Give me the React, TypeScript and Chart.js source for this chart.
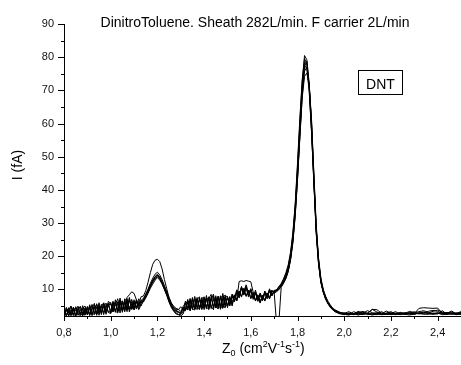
import React, { useEffect, useRef } from 'react';
import { Chart, registerables } from 'chart.js';

Chart.register(...registerables);

// Reduced mobility Z0 (cm2 V-1 s-1) sample positions
const zValues = [
  0.80, 0.81, 0.82, 0.83, 0.84, 0.85, 0.86, 0.87, 0.88, 0.89,
  0.90, 0.91, 0.92, 0.93, 0.94, 0.95, 0.96, 0.97, 0.98, 0.99,
  1.00, 1.01, 1.02, 1.03, 1.04, 1.05, 1.06, 1.07, 1.08, 1.09,
  1.10, 1.11, 1.12, 1.13, 1.14, 1.15, 1.16, 1.17, 1.18, 1.19,
  1.20, 1.21, 1.22, 1.23, 1.24, 1.25, 1.26, 1.27, 1.28, 1.29,
  1.30, 1.31, 1.32, 1.33, 1.34, 1.35, 1.36, 1.37, 1.38, 1.39,
  1.40, 1.41, 1.42, 1.43, 1.44, 1.45, 1.46, 1.47, 1.48, 1.49,
  1.50, 1.51, 1.52, 1.53, 1.54, 1.55, 1.56, 1.57, 1.58, 1.59,
  1.60, 1.61, 1.62, 1.63, 1.64, 1.65, 1.66, 1.67, 1.68, 1.69,
  1.70, 1.71, 1.72, 1.73, 1.74, 1.75, 1.76, 1.77, 1.78, 1.79,
  1.80, 1.81, 1.82, 1.83, 1.84, 1.85, 1.86, 1.87, 1.88, 1.89,
  1.90, 1.91, 1.92, 1.93, 1.94, 1.95, 1.96, 1.98, 2.00, 2.02,
  2.04, 2.06, 2.08, 2.10, 2.12, 2.14, 2.16, 2.18, 2.20, 2.22,
  2.24, 2.26, 2.28, 2.30, 2.32, 2.34, 2.36, 2.38, 2.40, 2.42,
  2.44, 2.46, 2.48, 2.50, 2.52,
];

// Current I (fA), one array per repeated scan
const scan1 = [
  2.1, 4.6, 2.8, 4.9, 2.3, 3.9, 5.0, 2.6, 2.2, 4.5,
  2.7, 5.4, 3.0, 2.4, 5.7, 3.3, 4.9, 6.0, 2.9, 5.2,
  6.1, 3.4, 5.5, 7.2, 3.8, 6.6, 4.2, 7.6, 8.4, 9.3,
  8.8, 6.9, 5.3, 7.8, 8.0, 9.6, 12.2, 15.1, 17.6, 18.8,
  19.1, 18.4, 16.2, 13.0, 10.2, 7.4, 5.6, 4.4, 3.7, 3.3,
  3.0, 4.8, 6.0, 3.9, 7.3, 4.4, 7.9, 4.6, 3.9, 7.6,
  4.6, 8.2, 4.4, 7.1, 8.6, 4.5, 7.9, 5.0, 8.8, 5.2,
  7.9, 5.1, 8.6, 7.4, 9.9, 8.8, 10.6, 9.3, 11.4, 9.0,
  10.2, 7.6, 9.8, 7.0, 8.9, 7.1, 9.5, 7.6, 10.2, 8.4,
  9.8, 9.5, 10.9, 11.4, 13.0, 14.6, 16.8, 20.6, 26.4, 35.2,
  47.0, 60.5, 72.5, 80.5, 79.2, 72.0, 59.5, 43.0, 28.5, 19.2,
  13.2, 10.0, 8.0, 6.5, 5.4, 4.4, 3.9, 3.1, 2.8, 3.3,
  2.6, 3.4, 2.9, 3.6, 3.0, 2.7, 3.3, 2.6, 2.9, 2.5,
  3.1, 2.8, 3.4, 3.0, 3.3, 3.6, 3.1, 2.7, 3.0, 2.6,
  2.9, 3.2, 2.7, 2.9, 2.8,
];
const scan2 = [
  3.9, 2.0, 3.6, 2.3, 4.7, 2.1, 3.7, 4.8, 2.9, 2.2,
  4.9, 2.5, 4.3, 5.8, 2.6, 5.2, 2.9, 4.8, 5.9, 3.0,
  3.6, 6.4, 3.1, 5.9, 6.9, 3.4, 6.2, 3.8, 6.8, 4.0,
  6.4, 4.1, 5.8, 6.4, 7.0, 8.4, 9.7, 11.2, 12.6, 13.9,
  14.6, 13.8, 12.5, 10.6, 8.7, 6.6, 4.9, 3.6, 2.9, 2.5,
  2.4, 3.2, 5.6, 6.6, 3.7, 7.2, 4.1, 6.9, 7.8, 4.0,
  7.3, 4.1, 7.8, 5.0, 3.9, 8.1, 5.1, 4.4, 7.6, 8.3,
  5.0, 7.9, 5.5, 8.4, 7.0, 12.4, 12.6, 12.4, 12.7, 12.5,
  12.3, 9.2, 6.7, 8.1, 5.9, 8.2, 6.6, 9.0, 7.4, 9.6,
  9.0, 9.6, 10.0, 11.0, 12.1, 13.5, 15.6, 19.0, 24.4, 32.6,
  43.5, 56.8, 69.5, 77.2, 78.8, 71.4, 58.2, 41.8, 26.8, 17.6,
  12.2, 9.3, 7.4, 5.9, 4.8, 4.1, 3.4, 2.7, 2.4, 2.9,
  2.5, 2.8, 3.2, 2.4, 2.7, 3.0, 2.5, 2.8, 2.4, 2.6,
  2.9, 2.5, 3.0, 2.7, 4.3, 4.5, 4.4, 4.3, 4.4, 2.8,
  2.6, 2.9, 2.5, 2.7, 2.6,
];
const scan3 = [
  2.0, 3.6, 4.2, 2.1, 3.5, 4.6, 2.2, 4.0, 2.4, 4.3,
  2.3, 4.4, 5.1, 2.5, 4.7, 2.7, 5.5, 3.0, 4.9, 5.9,
  2.9, 5.4, 6.1, 3.1, 5.8, 6.5, 3.3, 7.0, 4.0, 6.3,
  3.8, 6.4, 4.1, 6.6, 6.2, 7.4, 8.8, 10.4, 11.6, 12.8,
  13.5, 12.9, 11.6, 9.9, 8.2, 6.1, 4.5, 3.4, 2.6, 2.4,
  2.0, 2.6, 4.6, 5.9, 4.6, 5.8, 4.2, 7.2, 4.1, 6.9,
  3.9, 7.0, 7.5, 4.2, 7.2, 4.4, 8.0, 4.0, 7.1, 7.7,
  4.5, 7.4, 5.0, 8.2, 6.6, 9.4, 7.9, 10.3, 8.0, 9.8,
  7.4, 8.9, 6.6, 8.2, 6.0, 8.3, 6.7, 8.9, 7.4, 9.8,
  9.0, 0.0, 0.0, 10.6, 11.9, 13.2, 15.4, 18.8, 24.0, 32.0,
  43.0, 55.8, 68.2, 75.8, 77.0, 71.2, 59.8, 43.6, 28.2, 18.6,
  12.6, 9.4, 7.2, 5.7, 4.6, 3.9, 3.4, 2.8, 2.5, 2.3,
  2.8, 2.4, 2.5, 2.7, 2.3, 2.6, 2.4, 2.5, 2.7, 2.4,
  2.6, 2.5, 2.3, 2.6, 2.9, 3.2, 2.8, 2.5, 2.9, 2.4,
  2.5, 2.7, 2.4, 2.6, 2.7,
];
const scan4 = [
  4.5, 2.2, 3.9, 5.0, 2.5, 2.1, 4.6, 2.6, 5.1, 2.7,
  4.7, 2.3, 5.5, 3.1, 2.6, 6.0, 3.2, 5.6, 2.9, 6.4,
  5.8, 3.2, 6.9, 3.6, 7.4, 4.0, 6.6, 7.3, 3.9, 7.0,
  4.4, 7.0, 4.9, 6.7, 7.3, 8.6, 9.9, 11.3, 12.9, 13.8,
  14.2, 13.6, 12.0, 10.9, 9.1, 7.2, 5.5, 4.6, 4.0, 3.9,
  4.8, 3.8, 3.6, 7.0, 4.3, 7.6, 4.7, 3.9, 7.5, 4.8,
  7.8, 4.4, 7.2, 8.5, 4.8, 7.4, 4.2, 8.0, 5.0, 4.5,
  7.6, 5.9, 7.8, 6.6, 9.6, 7.8, 10.7, 8.3, 10.9, 8.2,
  9.9, 7.4, 9.0, 7.1, 8.5, 6.7, 9.1, 7.5, 9.5, 8.1,
  9.4, 10.0, 10.5, 11.5, 12.6, 14.2, 16.4, 20.0, 25.8, 34.2,
  45.8, 59.0, 71.0, 77.6, 76.4, 69.6, 57.2, 42.2, 27.6, 18.0,
  12.6, 9.6, 7.8, 6.1, 5.2, 4.3, 3.7, 3.2, 2.6, 2.4,
  3.3, 2.8, 2.5, 2.9, 4.0, 3.2, 2.6, 3.5, 2.8, 3.3,
  2.6, 3.0, 2.5, 2.8, 2.7, 3.1, 2.9, 3.4, 3.8, 3.2,
  2.8, 3.5, 2.6, 3.1, 3.0,
];
const scan5 = [
  2.0, 4.0, 2.1, 3.4, 4.4, 2.0, 3.6, 2.2, 4.2, 2.3,
  4.3, 2.1, 4.0, 4.8, 2.2, 4.2, 5.0, 2.4, 5.4, 3.1,
  2.7, 5.8, 3.3, 6.3, 2.9, 6.0, 3.4, 6.6, 3.2, 5.7,
  4.0, 6.6, 3.9, 5.4, 6.5, 7.9, 9.2, 10.8, 12.2, 13.2,
  13.9, 13.1, 11.8, 10.2, 8.4, 6.4, 4.8, 3.9, 3.3, 3.1,
  2.8, 4.6, 3.6, 5.1, 6.4, 3.9, 7.2, 4.3, 7.0, 4.0,
  6.4, 7.2, 4.6, 7.7, 4.3, 7.3, 4.7, 8.1, 4.4, 7.4,
  5.0, 7.6, 6.0, 8.1, 6.6, 9.5, 7.7, 10.3, 7.9, 9.7,
  7.2, 9.1, 6.5, 8.4, 6.4, 8.2, 6.5, 8.9, 7.1, 9.6,
  8.9, 9.3, 9.9, 10.8, 11.9, 13.4, 15.5, 19.2, 24.6, 32.8,
  43.8, 56.0, 67.8, 74.2, 75.2, 71.8, 61.2, 45.0, 29.6, 19.4,
  13.4, 10.0, 7.6, 6.0, 4.9, 4.2, 3.6, 2.9, 2.5, 2.7,
  2.6, 3.2, 2.6, 2.9, 2.6, 2.8, 2.5, 2.9, 3.3, 2.6,
  2.5, 2.9, 2.8, 3.3, 2.6, 2.9, 3.4, 3.7, 3.4, 2.8,
  3.1, 2.5, 2.8, 3.3, 2.9,
];
const scan6 = [
  2.3, 4.3, 2.0, 3.9, 2.1, 4.8, 2.5, 2.2, 4.4, 5.0,
  2.4, 4.7, 2.1, 5.3, 2.8, 4.9, 2.4, 5.9, 3.0, 5.2,
  5.7, 3.3, 6.1, 3.4, 6.6, 3.1, 7.2, 4.0, 7.6, 4.2,
  6.9, 4.2, 7.2, 5.9, 6.9, 8.3, 10.1, 11.9, 13.4, 14.6,
  15.2, 14.4, 13.0, 11.1, 9.4, 7.6, 5.9, 4.9, 4.3, 4.0,
  3.4, 3.5, 6.5, 3.8, 7.0, 4.2, 3.8, 7.2, 4.4, 7.3,
  7.6, 4.6, 4.1, 7.4, 8.0, 4.5, 7.7, 5.0, 4.3, 8.1,
  7.8, 5.1, 8.5, 6.4, 9.5, 7.8, 10.9, 8.7, 10.7, 8.2,
  10.2, 7.5, 9.3, 6.6, 8.8, 6.9, 9.4, 7.3, 10.0, 8.1,
  9.6, 9.9, 10.8, 11.8, 13.2, 15.0, 17.4, 21.2, 27.0, 35.8,
  48.2, 61.6, 73.2, 79.6, 77.8, 71.0, 60.6, 44.2, 28.6, 18.4,
  12.4, 9.4, 7.4, 5.9, 4.8, 3.9, 3.3, 2.7, 3.0, 2.5,
  2.7, 2.3, 2.8, 2.6, 2.5, 2.4, 2.9, 2.6, 2.5, 2.9,
  2.4, 2.7, 3.0, 2.6, 2.8, 2.5, 2.7, 2.6, 2.6, 3.6,
  2.5, 2.9, 2.5, 2.7, 2.6,
];
const scan7 = [
  3.8, 2.0, 4.5, 2.2, 4.2, 2.1, 4.0, 4.9, 2.0, 3.9,
  2.6, 5.0, 2.3, 4.3, 5.5, 2.2, 4.6, 5.3, 2.5, 5.7,
  3.0, 6.3, 3.5, 2.9, 6.8, 3.6, 6.1, 3.3, 7.3, 4.0,
  6.0, 4.6, 6.4, 5.0, 6.7, 8.0, 9.5, 11.0, 12.4, 13.5,
  14.4, 13.4, 12.2, 10.4, 8.5, 6.8, 5.0, 4.0, 3.5, 3.2,
  2.6, 4.7, 3.8, 6.5, 3.5, 6.9, 4.0, 7.6, 4.1, 6.7,
  4.6, 7.5, 3.9, 7.0, 7.7, 4.8, 4.2, 7.4, 8.2, 4.6,
  7.5, 5.8, 8.0, 6.3, 9.3, 7.4, 10.3, 8.4, 10.5, 7.7,
  9.6, 7.0, 8.9, 6.4, 8.3, 6.6, 9.0, 7.2, 9.8, 8.1,
  9.3, 9.7, 10.2, 11.2, 12.4, 14.0, 16.2, 19.8, 25.4, 33.8,
  45.0, 58.2, 70.4, 78.4, 78.0, 70.2, 57.8, 42.6, 27.2, 17.8,
  12.0, 9.1, 7.1, 5.8, 4.9, 4.0, 3.5, 3.0, 2.6, 2.8,
  2.4, 3.0, 3.4, 2.7, 4.0, 3.9, 2.8, 2.5, 2.9, 2.7,
  2.9, 2.6, 2.8, 2.5, 3.0, 2.7, 2.5, 2.9, 2.7, 3.0,
  2.7, 2.6, 3.0, 2.5, 2.8,
];

const scans = [scan1, scan2, scan3, scan4, scan5, scan6, scan7];

// Axis ticks
const xTickValues = [0.8, 0.9, 1.0, 1.1, 1.2, 1.3, 1.4, 1.5, 1.6, 1.7, 1.8, 1.9, 2.0, 2.1, 2.2, 2.3, 2.4, 2.5];
const xLabelledTicks = [0.8, 1.0, 1.2, 1.4, 1.6, 1.8, 2.0, 2.2, 2.4];
const yTickValues = [5, 10, 15, 20, 25, 30, 35, 40, 45, 50, 55, 60, 65, 70, 75, 80, 85, 90];
const yLabelledTicks = [10, 20, 30, 40, 50, 60, 70, 80, 90];

const titleText = 'DinitroToluene. Sheath 282L/min. F carrier 2L/min';
const annotationText = 'DNT';
const yAxisTitle = 'I (fA)';

const FONT = '"Liberation Sans", Arial, sans-serif';

const isLabelled = (list: number[], v: number) => list.some((t) => Math.abs(t - v) < 1e-6);

const decorPlugin = {
  id: 'decor',
  afterDraw(chart: any) {
    const ctx = chart.ctx as CanvasRenderingContext2D;
    const xs = chart.scales.x;
    const ys = chart.scales.y;
    const area = chart.chartArea;
    ctx.save();
    ctx.strokeStyle = '#000';
    ctx.lineWidth = 1;
    ctx.beginPath();
    for (const v of xTickValues) {
      const px = Math.round(xs.getPixelForValue(v)) + 0.5;
      const len = isLabelled(xLabelledTicks, v) ? 5 : 3;
      ctx.moveTo(px, area.bottom);
      ctx.lineTo(px, area.bottom + len);
    }
    for (const v of yTickValues) {
      const py = Math.round(ys.getPixelForValue(v)) + 0.5;
      const len = isLabelled(yLabelledTicks, v) ? 6 : 3;
      ctx.moveTo(area.left, py);
      ctx.lineTo(area.left - len, py);
    }
    ctx.stroke();

    ctx.fillStyle = '#000';
    // title
    ctx.font = `14px ${FONT}`;
    ctx.textAlign = 'center';
    ctx.textBaseline = 'alphabetic';
    ctx.fillText(titleText, 255, 26.5);

    // DNT label box
    ctx.strokeRect(358.5, 70.5, 44, 24);
    ctx.fillText(annotationText, 380.5, 89);

    // y axis title
    ctx.save();
    ctx.translate(18, 165);
    ctx.rotate(-Math.PI / 2);
    ctx.textBaseline = 'middle';
    ctx.fillText(yAxisTitle, 0, 0);
    ctx.restore();

    // x axis title with sub/superscripts
    const parts: [string, number, number][] = [
      ['Z', 14, 0],
      ['0', 9, 3],
      [' (cm', 14, 0],
      ['2', 9, -6],
      ['V', 14, 0],
      ['-1', 9, -6],
      ['s', 14, 0],
      ['-1', 9, -6],
      [')', 14, 0],
    ];
    ctx.textAlign = 'left';
    ctx.textBaseline = 'alphabetic';
    let cx = 222;
    const base = 353;
    for (const [txt, size, dy] of parts) {
      ctx.font = `${size}px ${FONT}`;
      ctx.fillText(txt, cx, base + dy);
      cx += ctx.measureText(txt).width;
    }
    ctx.restore();
  },
};

export default function App() {
  const canvasRef = useRef<HTMLCanvasElement | null>(null);

  useEffect(() => {
    const canvas = canvasRef.current;
    if (!canvas) return;
    const chart = new Chart(canvas, {
      type: 'line',
      data: {
        datasets: scans.map((scan, k) => ({
          label: `scan ${k + 1}`,
          data: zValues.map((z, i) => ({ x: z, y: scan[i] })),
          borderColor: '#000',
          borderWidth: 1,
          pointRadius: 0,
          fill: false,
          tension: 0,
        })),
      },
      options: {
        animation: false,
        responsive: false,
        devicePixelRatio: 1,
        layout: { padding: { top: 24, left: 0, right: 0, bottom: 0 } },
        plugins: {
          legend: { display: false },
          tooltip: { enabled: false },
          title: { display: false },
        },
        scales: {
          x: {
            type: 'linear',
            min: 0.8,
            max: 2.5,
            grid: { drawOnChartArea: false, drawTicks: false },
            border: { display: true, color: '#000', width: 1 },
            afterBuildTicks: (s: any) => {
              s.ticks = xTickValues.map((v) => ({ value: v }));
            },
            afterFit: (s: any) => {
              s.height = 49;
              s.paddingLeft = 0;
              s.paddingRight = 0;
            },
            ticks: {
              autoSkip: false,
              maxRotation: 0,
              padding: 10,
              color: '#111',
              font: { family: FONT, size: 11 },
              callback: (v: any) =>
                isLabelled(xLabelledTicks, Number(v)) ? Number(v).toFixed(1).replace('.', ',') : '',
            },
          },
          y: {
            type: 'linear',
            min: 2,
            max: 90,
            grid: { drawOnChartArea: false, drawTicks: false },
            border: { display: true, color: '#000', width: 1 },
            afterBuildTicks: (s: any) => {
              s.ticks = yTickValues.map((v) => ({ value: v }));
            },
            afterFit: (s: any) => {
              s.width = 64;
              s.paddingTop = 0;
              s.paddingBottom = 0;
            },
            ticks: {
              autoSkip: false,
              padding: 10,
              color: '#111',
              font: { family: FONT, size: 11 },
              callback: (v: any) => (isLabelled(yLabelledTicks, Number(v)) ? String(v) : ''),
            },
          },
        },
      },
      plugins: [decorPlugin],
    });
    return () => chart.destroy();
  }, []);

  return (
    <div style={{ position: 'fixed', left: 0, top: 0, width: 461, height: 365, background: '#fff' }}>
      <canvas ref={canvasRef} width={461} height={365} />
    </div>
  );
}
